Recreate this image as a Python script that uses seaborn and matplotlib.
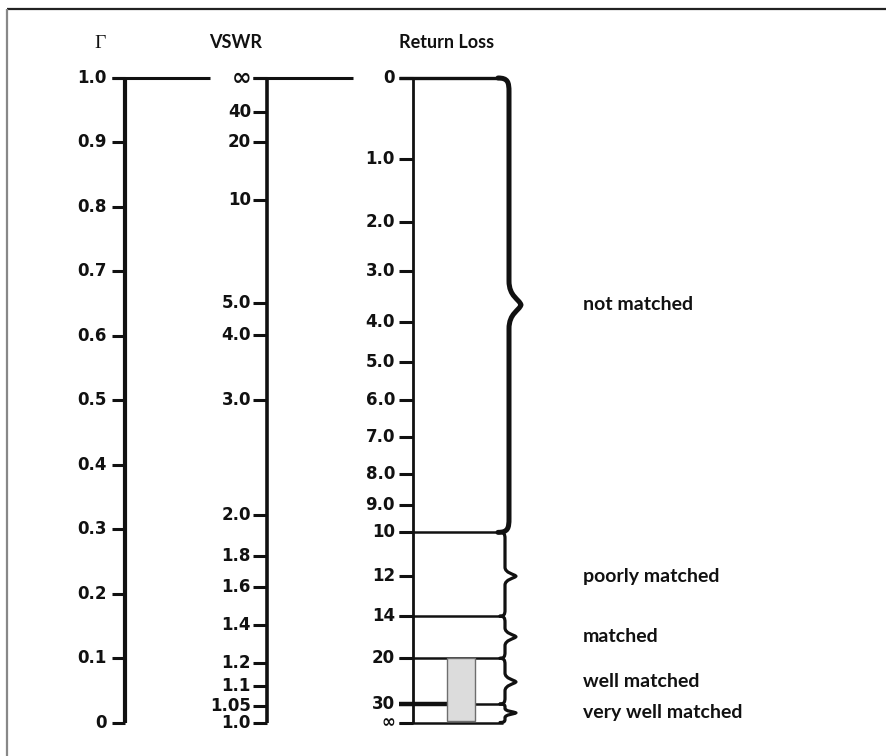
import numpy as np
import matplotlib
matplotlib.use("Agg")
import matplotlib.pyplot as plt
from matplotlib.path import Path
from matplotlib.patches import PathPatch
import seaborn as sns

# ---------------- data (positions expressed on the reflection-coefficient scale) ----------------
gamma_labels = ["1.0", "0.9", "0.8", "0.7", "0.6", "0.5", "0.4", "0.3", "0.2", "0.1", "0"]
gamma_values = [1.0, 0.9, 0.8, 0.7, 0.6, 0.5, 0.4, 0.3, 0.2, 0.1, 0.0]

vswr_labels = ["\u221e", "40", "20", "10", "5.0", "4.0", "3.0", "2.0", "1.8", "1.6",
               "1.4", "1.2", "1.1", "1.05", "1.0"]
vswr_gamma = [1.0, 0.948, 0.900, 0.811, 0.651, 0.602, 0.501, 0.322, 0.258, 0.210,
              0.152, 0.093, 0.057, 0.026, 0.0]

rl_labels = ["0", "1.0", "2.0", "3.0", "4.0", "5.0", "6.0", "7.0", "8.0", "9.0",
             "10", "12", "14", "20", "30", "\u221e"]
rl_gamma = [1.0, 0.874, 0.776, 0.700, 0.622, 0.560, 0.500, 0.443, 0.386, 0.337,
            0.295, 0.227, 0.165, 0.0996, 0.0287, 0.0]

match_labels = ["not matched", "poorly matched", "matched", "well matched", "very well matched"]
match_top = [1.0, 0.295, 0.165, 0.0996, 0.0287]      # upper bound (RL 0, 10, 14, 20, 30)
match_bottom = [0.295, 0.165, 0.0996, 0.0287, 0.0]   # lower bound (RL 10, 14, 20, 30, inf)
match_tip = [0.648, 0.227, 0.133, 0.063, 0.015]

highlight_top = 0.0996   # RL 20
highlight_bottom = 0.003

headers = ["\u0393", "VSWR", "Return Loss"]

# ---------------- figure ----------------
sns.set_theme(style="white")
W, H = 887, 756
fig = plt.figure(figsize=(W / 100, H / 100), dpi=100)
ax = fig.add_axes([0, 0, 1, 1])

Y0, SCALE = 722.5, 644.5  # pixel row of gamma=0 and pixels per unit gamma


def py(row):
    return (Y0 - row) / SCALE


ax.set_xlim(0, W)
ax.set_ylim(py(H), py(0))
ax.axis("off")

INK = "#111111"
tick_font = dict(family="DejaVu Sans", fontweight="bold", fontsize=12, color=INK)
head_font = dict(family=["Lato", "DejaVu Sans"], fontweight="bold", fontsize=13, color=INK)
lab_font = dict(family=["Lato", "DejaVu Sans"], fontweight="bold", fontsize=14, color=INK)


def tick_text(x, y, t, inf_size=17):
    kw = dict(tick_font)
    if t == "\u221e":
        kw["fontsize"] = inf_size
    ax.text(x, y, t, ha="right", va="center", **kw)


# border (top and left)
ax.plot([7, W], [py(9), py(9)], color="#222222", lw=1.6, solid_capstyle="butt")
ax.plot([7, 7], [py(9), py(H)], color="#888888", lw=1.6, solid_capstyle="butt")

# headers
hx = [100, 236, 447]
ax.text(hx[0], py(43), headers[0], ha="center", va="center",
        family="Liberation Serif", fontsize=14, color=INK)
for x, t in zip(hx[1:], headers[1:]):
    ax.text(x, py(43), t, ha="center", va="center", **head_font)

# ---- Gamma scale ----
gx = 125
ax.vlines(gx, 0, 1.0, color=INK, lw=3.0)
ax.hlines(gamma_values, 112, gx, color=INK, lw=2.2)
ax.hlines(gamma_values[0], 112, 210, color=INK, lw=2.2)
for v, t in zip(gamma_values, gamma_labels):
    tick_text(107, v, t)

# ---- VSWR scale ----
vx = 267
ax.vlines(vx, 0, 1.0, color=INK, lw=2.6)
ax.hlines(vswr_gamma, 253, vx, color=INK, lw=2.2)
ax.hlines(vswr_gamma[0], 253, 353, color=INK, lw=2.2)
for v, t in zip(vswr_gamma, vswr_labels):
    tick_text(251, v, t)

# ---- Return loss scale ----
rx = 413
ax.vlines(rx, 0, 1.0, color=INK, lw=2.0)
ax.hlines(rl_gamma, 399, rx, color=INK, lw=2.2)
ax.hlines([rl_gamma[0]], 399, 500, color=INK, lw=2.4)
bounds = [rl_gamma[10], rl_gamma[12], rl_gamma[13], rl_gamma[15]]
ax.hlines(bounds, 399, 503, color=INK, lw=1.8)
ax.hlines(rl_gamma[14], 399, 503, color=INK, lw=1.8)
ax.hlines(rl_gamma[14], 399, 447, color=INK, lw=3.2)
for v, t in zip(rl_gamma, rl_labels):
    tick_text(395, v, t, inf_size=12)

# highlighted box
ax.bar(x=461, height=highlight_top - highlight_bottom, width=28, bottom=highlight_bottom,
       color="#dcdcdc", edgecolor="#6e6e6e", linewidth=1.0, zorder=3)


# ---- braces ----
def brace(top, bottom, tip, x0, xm, xt, ce, ct, lw):
    yt, yb, ym = Y0 - top * SCALE, Y0 - bottom * SCALE, Y0 - tip * SCALE
    ce1 = min(ce, (ym - yt) / 3)
    ce2 = min(ce, (yb - ym) / 3)
    ct1 = min(ct, (ym - yt) / 2)
    ct2 = min(ct, (yb - ym) / 2)
    pts = [
        (x0, yt),
        (xm - 1, yt), (xm, yt + ce1 * 0.3), (xm, yt + ce1),
        (xm, ym - ct1),
        (xm, ym - ct1 * 0.35), (xt - 2, ym - ct1 * 0.25), (xt, ym),
        (xt - 2, ym + ct2 * 0.25), (xm, ym + ct2 * 0.35), (xm, ym + ct2),
        (xm, yb - ce2),
        (xm, yb - ce2 * 0.3), (xm - 1, yb), (x0, yb),
    ]
    codes = [Path.MOVETO] + [Path.CURVE4] * 3 + [Path.LINETO] + [Path.CURVE4] * 6 + \
            [Path.LINETO] + [Path.CURVE4] * 3
    verts = [(x, py(y)) for x, y in pts]
    ax.add_patch(PathPatch(Path(verts, codes), fill=False, edgecolor=INK,
                           lw=lw, capstyle="round", joinstyle="round", zorder=4))


for i, (t, b, m) in enumerate(zip(match_top, match_bottom, match_tip)):
    if i == 0:
        brace(t, b, m, 498, 509, 521, 14, 24, 3.6)
    else:
        brace(t, b, m, 500, 505, 516, 6, 9, 2.3)

for t, m in zip(match_labels, match_tip):
    ax.text(583, m, t, ha="left", va="center", **lab_font)

fig.savefig("out.png", dpi=100)
